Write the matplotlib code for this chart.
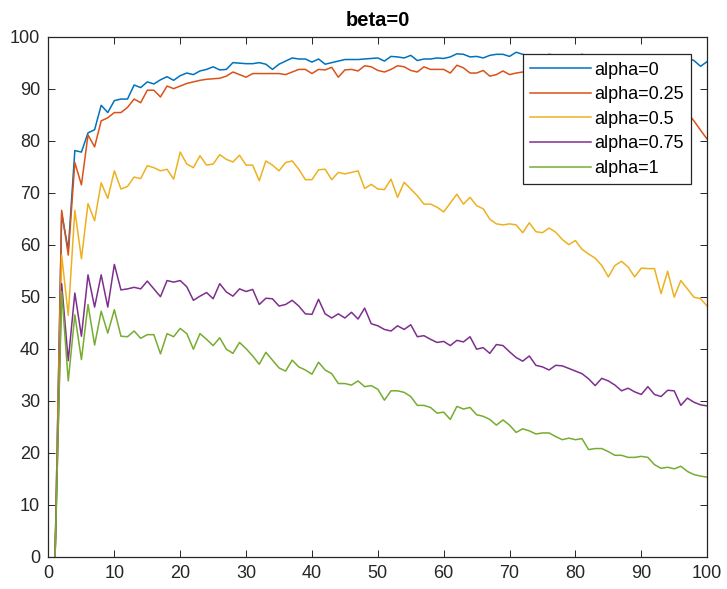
import matplotlib
matplotlib.use('Agg')
import matplotlib.pyplot as plt
import numpy as np

plt.rcParams['font.family'] = ['Liberation Sans', 'DejaVu Sans']

x = np.arange(1, 101)

labels = ['alpha=0', 'alpha=0.25', 'alpha=0.5', 'alpha=0.75', 'alpha=1']
colors = ['#0072BD', '#D95319', '#EDB120', '#7E2F8E', '#77AC30']

alpha_0 = [0, 66, 59, 78.1, 77.8, 81.5, 82.1, 86.8, 85.4, 87.7,
           88, 88, 90.7, 90.2, 91.3, 90.9, 91.7, 92.3, 91.6, 92.5,
           93, 92.7, 93.4, 93.7, 94.2, 93.6, 93.7, 95, 94.9, 94.8,
           94.8, 95, 94.7, 93.7, 94.7, 95.3, 95.9, 95.7, 95.7, 95.1,
           95.7, 94.7, 95, 95.3, 95.6, 95.6, 95.6, 95.7, 95.8, 95.9,
           95.3, 96.2, 96.1, 95.9, 96.4, 95.4, 95.7, 95.7, 95.9, 95.8,
           96.1, 96.7, 96.6, 96.1, 96.2, 95.9, 96.4, 96.6, 96.6, 96.2,
           97.0, 96.6, 96.3, 96.5, 96.2, 96.6, 96.4, 96.1, 96.5, 96.3,
           96.6, 96.2, 96.4, 96.0, 96.5, 96.3, 96.1, 96.4, 96.2, 96.5,
           96.0, 96.3, 96.1, 95.9, 96.2, 96.0, 95.9, 95.4, 94.3, 95.2]

alpha_025 = [0, 66.6, 58, 75.8, 71.5, 81.1, 78.8, 83.8, 84.4, 85.4,
             85.4, 86.4, 88, 87.3, 89.7, 89.7, 88.4, 90.5, 90, 90.5,
             91, 91.3, 91.6, 91.8, 91.9, 92, 92.4, 93.2, 92.7, 92.2,
             92.9, 92.9, 92.9, 92.9, 92.9, 92.7, 93.2, 93.7, 93.7, 92.9,
             93.7, 93.6, 94.1, 92.2, 93.6, 93.7, 93.4, 94.4, 94.2, 93.5,
             93.2, 93.7, 94.4, 94.2, 93.5, 93.2, 94.2, 93.7, 93.7, 93.7,
             93.0, 94.5, 94.0, 93.0, 93.0, 93.5, 92.4, 92.7, 93.4, 92.7,
             93.0, 93.2, 93.0, 92.8, 93.1, 92.6, 92.9, 92.5, 92.7, 92.3,
             92.4, 92.0, 92.2, 91.7, 91.5, 91.0, 90.6, 90.2, 89.5, 89.0,
             88.6, 88.0, 87.5, 87.0, 86.5, 86.0, 85.3, 83.8, 82.0, 80.3]

alpha_05 = [0, 58, 46.4, 66.6, 57.3, 67.9, 64.6, 71.9, 68.9, 74.2,
            70.7, 71.2, 73, 72.7, 75.2, 74.8, 74.2, 74.5, 72.6, 77.8,
            75.5, 74.8, 77.1, 75.3, 75.5, 77.3, 76.4, 75.9, 77.2, 75.3,
            75.3, 72.3, 76.1, 75.3, 74.2, 75.8, 76.1, 74.5, 72.5, 72.5,
            74.4, 74.5, 72.5, 73.9, 73.6, 73.9, 74.2, 70.8, 71.6, 70.7,
            70.6, 72.6, 69.1, 72.0, 70.7, 69.4, 67.8, 67.8, 67.2, 66.3,
            68.0, 69.7, 67.8, 69.1, 67.5, 66.9, 64.9, 64.0, 63.8, 64.0,
            63.8, 62.3, 64.2, 62.5, 62.3, 63.2, 62.4, 61.0, 60.0, 60.8,
            59.1, 58.2, 57.4, 56.0, 53.8, 56.0, 56.8, 55.7, 53.8, 55.5,
            55.4, 55.4, 50.6, 54.9, 49.9, 53.1, 51.5, 49.9, 49.6, 48.2]

alpha_075 = [0, 52.5, 37.7, 50.7, 42.4, 54.2, 48, 54.2, 48, 56.2,
             51.3, 51.5, 51.8, 51.5, 53.0, 51.5, 50.0, 53.1, 52.8, 53.1,
             51.9, 49.3, 50.1, 50.8, 49.6, 52.5, 50.9, 50.1, 51.5, 51.0,
             51.4, 48.5, 49.7, 49.6, 48.2, 48.5, 49.3, 48.2, 46.7, 46.6,
             49.5, 46.7, 45.9, 46.7, 45.9, 47.0, 45.7, 47.8, 44.8, 44.4,
             43.7, 43.4, 44.4, 43.7, 44.6, 42.3, 42.5, 41.8, 41.2, 41.4,
             40.6, 41.6, 41.3, 42.3, 39.9, 40.2, 39.1, 40.8, 40.6, 39.4,
             38.3, 37.6, 38.6, 36.8, 36.5, 35.9, 36.8, 36.7, 36.2, 35.7,
             35.2, 34.2, 32.9, 34.3, 33.8, 33.0, 31.9, 32.4, 31.7, 31.2,
             32.7, 31.2, 30.8, 32.0, 31.9, 29.1, 30.5, 29.7, 29.2, 29.0]

alpha_1 = [0, 51, 33.8, 46.5, 37.9, 48.5, 40.7, 47.2, 43, 47.5,
           42.4, 42.3, 43.4, 42, 42.7, 42.7, 39, 42.9, 42.3, 43.9,
           42.9, 39.9, 42.9, 41.8, 40.6, 42.1, 39.9, 39.1, 41.2, 40.0,
           38.6, 37.0, 39.3, 37.8, 36.3, 35.7, 37.8, 36.5, 35.9, 35.1,
           37.4, 35.9, 35.2, 33.3, 33.3, 33.0, 33.8, 32.7, 32.9, 32.2,
           30.1, 31.9, 31.9, 31.6, 30.8, 29.1, 29.1, 28.7, 27.6, 27.8,
           26.4, 28.9, 28.4, 28.7, 27.3, 27.0, 26.4, 25.3, 26.3, 25.3,
           23.9, 24.6, 24.2, 23.6, 23.8, 23.8, 23.1, 22.5, 22.8, 22.5,
           22.7, 20.6, 20.8, 20.8, 20.2, 19.5, 19.5, 19.1, 19.1, 19.3,
           19.1, 17.7, 17.0, 17.2, 16.9, 17.4, 16.4, 15.8, 15.5, 15.3]

series = [alpha_0, alpha_025, alpha_05, alpha_075, alpha_1]

fig = plt.figure(figsize=(7.27, 5.89), dpi=100)
ax = fig.add_axes([0.0667, 0.0548, 0.906, 0.883])

for vals, lab, col in zip(series, labels, colors):
    ax.plot(x, vals, color=col, linewidth=1.1, label=lab)

ax.set_xlim(0, 100)
ax.set_ylim(0, 100)
ax.set_xticks(np.arange(0, 101, 10))
ax.set_yticks(np.arange(0, 101, 10))
ax.tick_params(direction='in', top=True, right=True, length=5, width=0.7,
               labelsize=13, colors='#262626', pad=6)
for sp in ax.spines.values():
    sp.set_color('#262626')
    sp.set_linewidth(0.9)

ax.set_title('beta=0', fontsize=14.5, fontweight='bold', color='black', pad=8)

leg = ax.legend(loc='upper right', bbox_to_anchor=(0.9755, 0.966), borderaxespad=0,
                fontsize=13, handlelength=3.4, handletextpad=0.15, labelspacing=0.42,
                fancybox=False, framealpha=1, edgecolor='#262626', borderpad=0.4)
leg.get_frame().set_linewidth(0.9)

fig.savefig('out.png', dpi=100)
